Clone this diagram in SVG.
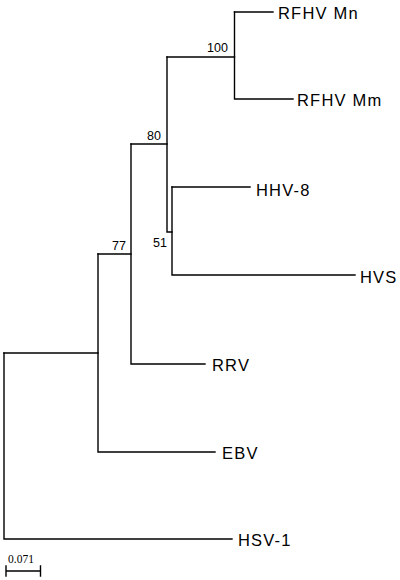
<svg xmlns="http://www.w3.org/2000/svg" width="400" height="580" viewBox="0 0 400 580">
<style>
.b{fill:none;stroke:#000;stroke-width:1.4;stroke-linecap:square}
.lbl{font-family:"Liberation Sans",Arial,sans-serif;font-size:16.5px;letter-spacing:1.2px;fill:#000}
.bs{font-family:"Liberation Sans",Arial,sans-serif;font-size:12.5px;fill:#000}
.sc{font-family:"Liberation Serif","Times New Roman",serif;font-size:11.5px;fill:#000}
</style>
<rect width="400" height="580" fill="#fff"/>
<g id="connectors">
<path class="b" d="M4,353 V539 H232"/>
<path class="b" d="M4,353 H98"/>
<path class="b" d="M98,254 V452 H215"/>
<path class="b" d="M98,254 H131"/>
<path class="b" d="M131,144 V364 H205"/>
<path class="b" d="M131,144 H167"/>
<path class="b" d="M167,57 V232 H172"/>
<path class="b" d="M167,57 H234.5"/>
<path class="b" d="M234.5,12 V99 H293"/>
<path class="b" d="M234.5,12 H273"/>
<path class="b" d="M172,187 V275 H355"/>
<path class="b" d="M172,187 H250"/>
</g>
<g id="RFHVMn"><text class="lbl" x="278" y="19">RFHV Mn</text></g>
<g id="RFHVMm"><text class="lbl" x="297" y="106">RFHV Mm</text></g>
<g id="HHV8"><text class="lbl" x="256" y="196">HHV-8</text></g>
<g id="HVS"><text class="lbl" x="360" y="283">HVS</text></g>
<g id="RRV"><text class="lbl" x="212" y="371">RRV</text></g>
<g id="EBV"><text class="lbl" x="222" y="459">EBV</text></g>
<g id="HSV1"><text class="lbl" x="238" y="546">HSV-1</text></g>
<g id="n100"><text class="bs" x="207" y="52">100</text></g>
<g id="n80"><text class="bs" x="147" y="140">80</text></g>
<g id="n51"><text class="bs" x="153" y="247">51</text></g>
<g id="n77"><text class="bs" x="112" y="250">77</text></g>
<g id="scale">
<path class="b" d="M6,566 V576 M6,571 H40.5 M40.5,566 V576"/>
<text class="sc" x="8" y="563">0.071</text>
</g>
</svg>
